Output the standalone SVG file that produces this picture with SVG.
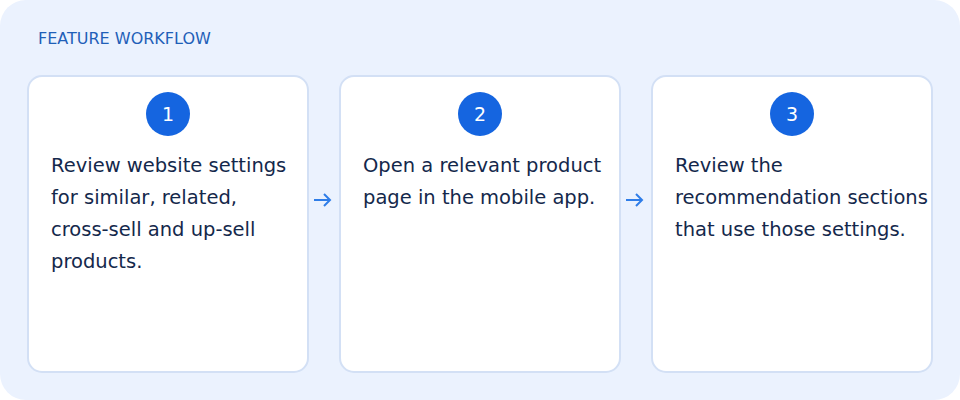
<svg xmlns="http://www.w3.org/2000/svg" width="960" height="400" viewBox="0 0 960 400">
<style>
.card{fill:#fff;stroke:#d3e0f5;stroke-width:2}
.num{fill:#1565e0}
.nt{font-family:"DejaVu Sans",sans-serif;font-size:19px;fill:#fff;text-anchor:middle}
.t{font-family:"DejaVu Sans",sans-serif;font-size:19.5px;fill:#14284b}
.arr{stroke:#2f7de8;stroke-width:2;fill:none}
</style>
<rect x="0" y="0" width="960" height="400" rx="26" fill="#ebf2fe"/>
<text x="38" y="44" font-family="DejaVu Sans, sans-serif" font-size="16" fill="#1f5fb8">FEATURE WORKFLOW</text>
<g id="step1">
<rect class="card" x="28" y="76" width="280" height="296" rx="14"/>
<circle class="num" cx="168" cy="114" r="22"/><text class="nt" x="168" y="121">1</text>
<text class="t" x="51" y="172">Review website settings</text>
<text class="t" x="51" y="204">for similar, related,</text>
<text class="t" x="51" y="236">cross-sell and up-sell</text>
<text class="t" x="51" y="268">products.</text>
</g>
<g id="step2">
<rect class="card" x="340" y="76" width="280" height="296" rx="14"/>
<circle class="num" cx="480" cy="114" r="22"/><text class="nt" x="480" y="121">2</text>
<text class="t" x="363" y="172">Open a relevant product</text>
<text class="t" x="363" y="204">page in the mobile app.</text>
</g>
<g id="step3">
<rect class="card" x="652" y="76" width="280" height="296" rx="14"/>
<circle class="num" cx="792" cy="114" r="22"/><text class="nt" x="792" y="121">3</text>
<text class="t" x="675" y="172">Review the</text>
<text class="t" x="675" y="204">recommendation sections</text>
<text class="t" x="675" y="236">that use those settings.</text>
</g>
<g id="connectors">
<path class="arr" d="M314 200H330M324 194L330 200L324 206"/>
<path class="arr" d="M626 200H642M636 194L642 200L636 206"/>
</g>
</svg>
